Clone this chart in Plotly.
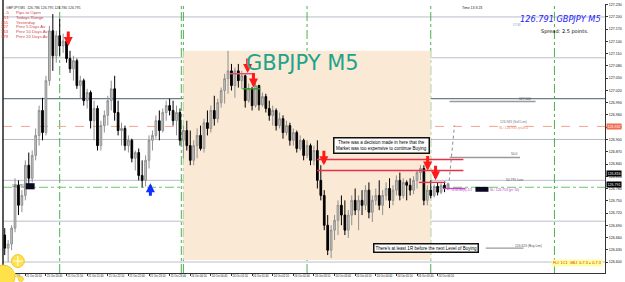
import plotly.graph_objects as go

# ---------------- data ----------------
bar_index = list(range(130))

opens = [126.666,126.634,126.644,126.683,126.788,126.739,126.763,126.837,126.805,126.861,
         126.910,126.971,126.917,127.044,127.166,127.105,127.154,127.129,127.141,127.098,
         127.073,127.093,127.032,127.044,126.995,127.015,126.946,126.976,126.885,126.934,
         126.959,126.995,127.024,126.966,126.922,126.927,126.885,126.898,126.854,126.868,
         126.812,126.800,126.849,126.898,126.910,126.946,126.922,126.966,126.983,126.971,
         126.946,126.966,126.898,126.922,126.885,126.849,126.885,126.910,126.878,126.941,
         126.927,126.971,126.951,126.990,127.020,127.049,127.068,127.032,127.068,127.044,
         127.056,126.995,127.024,126.983,127.032,126.985,127.005,126.976,126.959,126.971,
         126.934,126.951,126.917,126.934,126.898,126.917,126.878,126.898,126.861,126.885,
         126.849,126.873,126.800,126.763,126.690,126.629,126.678,126.702,126.739,126.715,
         126.678,126.715,126.751,126.727,126.751,126.739,126.776,126.722,126.751,126.763,
         126.739,126.763,126.780,126.751,126.776,126.800,126.763,126.795,126.788,126.776,
         126.800,126.819,126.829,126.751,126.776,126.763,126.785,126.771,126.788,126.780]

highs = [126.683,126.654,126.690,126.805,126.800,126.776,126.849,126.868,126.873,126.927,
         126.983,127.002,127.056,127.178,127.207,127.166,127.195,127.159,127.146,127.117,
         127.105,127.098,127.056,127.049,127.024,127.020,126.995,126.983,126.946,126.971,
         127.007,127.044,127.056,126.995,126.941,126.934,126.910,126.902,126.873,126.878,
         126.849,126.861,126.910,126.922,126.959,126.971,126.976,126.995,127.000,126.995,
         126.983,126.976,126.934,126.946,126.922,126.898,126.927,126.934,126.951,126.971,
         126.983,127.007,127.000,127.027,127.061,127.117,127.085,127.076,127.085,127.068,
         127.059,127.037,127.029,127.044,127.034,127.015,127.012,126.995,126.983,126.976,
         126.966,126.959,126.946,126.941,126.927,126.922,126.910,126.902,126.898,126.890,
         126.885,126.898,126.837,126.776,126.715,126.690,126.715,126.751,126.763,126.751,
         126.727,126.763,126.780,126.763,126.776,126.788,126.795,126.763,126.780,126.800,
         126.776,126.795,126.805,126.788,126.812,126.819,126.805,126.800,126.805,126.810,
         126.824,126.837,126.837,126.788,126.800,126.790,126.795,126.793,126.797,126.795]

lows = [126.617,126.600,126.629,126.673,126.715,126.722,126.751,126.788,126.795,126.849,
        126.885,126.898,126.910,127.032,127.068,127.088,127.105,127.112,127.088,127.063,
        127.044,127.024,127.000,126.983,126.976,126.927,126.898,126.873,126.873,126.917,
        126.934,126.971,126.946,126.910,126.885,126.873,126.868,126.844,126.824,126.800,
        126.783,126.785,126.829,126.873,126.902,126.898,126.917,126.946,126.959,126.934,
        126.910,126.885,126.854,126.873,126.837,126.837,126.854,126.873,126.868,126.910,
        126.917,126.934,126.941,126.978,126.988,127.012,127.020,127.002,127.027,127.024,
        126.978,126.990,126.971,126.978,126.971,126.980,126.966,126.946,126.934,126.922,
        126.927,126.902,126.910,126.885,126.885,126.868,126.873,126.849,126.854,126.837,
        126.837,126.780,126.751,126.678,126.617,126.610,126.654,126.666,126.690,126.666,
        126.659,126.690,126.715,126.678,126.715,126.727,126.707,126.698,126.739,126.727,
        126.715,126.751,126.732,126.739,126.763,126.751,126.756,126.751,126.763,126.766,
        126.780,126.800,126.739,126.739,126.756,126.758,126.763,126.766,126.771,126.776]

closes = [126.634,126.644,126.683,126.788,126.739,126.763,126.837,126.805,126.861,126.910,
          126.971,126.917,127.044,127.166,127.105,127.154,127.129,127.141,127.098,127.073,
          127.093,127.032,127.044,126.995,127.015,126.946,126.976,126.885,126.934,126.959,
          126.995,127.024,126.966,126.922,126.927,126.885,126.898,126.854,126.868,126.812,
          126.800,126.849,126.898,126.910,126.946,126.922,126.966,126.983,126.971,126.946,
          126.966,126.898,126.922,126.885,126.849,126.885,126.910,126.878,126.941,126.927,
          126.971,126.951,126.990,127.020,127.049,127.068,127.032,127.068,127.044,127.056,
          126.995,127.024,126.983,127.032,126.985,127.005,126.976,126.959,126.971,126.934,
          126.951,126.917,126.934,126.898,126.917,126.878,126.898,126.861,126.885,126.849,
          126.873,126.800,126.763,126.690,126.629,126.678,126.702,126.739,126.715,126.678,
          126.715,126.751,126.727,126.751,126.739,126.776,126.722,126.751,126.763,126.739,
          126.763,126.780,126.751,126.776,126.800,126.763,126.795,126.788,126.776,126.800,
          126.819,126.829,126.751,126.776,126.763,126.785,126.771,126.788,126.780,126.791]

tick_bars = [0, 6, 12, 18, 24, 30, 36, 42, 48, 54, 60, 66, 72, 78, 84, 90, 96, 102, 108, 114, 120, 126]
tick_text = ["21 Oct 2016", "21 Oct 20:10", "21 Oct 20:40", "21 Oct 21:10", "21 Oct 21:40",
             "21 Oct 22:10", "21 Oct 22:40", "21 Oct 23:10", "21 Oct 23:40", "24 Oct 00:10",
             "24 Oct 00:40", "24 Oct 01:10", "24 Oct 01:40", "24 Oct 02:10", "24 Oct 02:40",
             "24 Oct 03:10", "24 Oct 03:40", "24 Oct 04:10", "24 Oct 04:40", "24 Oct 05:10",
             "24 Oct 05:40", "24 Oct 06:10"]

price_ticks = [126.600, 126.630, 126.660, 126.690, 126.720, 126.750, 126.780, 126.810,
               126.840, 126.870, 126.900, 126.930, 126.960, 126.990, 127.020, 127.050,
               127.080, 127.110, 127.140, 127.170, 127.200, 127.230]

round_levels = [127.200, 127.100, 127.000, 126.900, 126.800, 126.700, 126.600]
separator_bars = [16, 51.4, 52, 88, 124, 160]

session_start, session_end = 52, 124
session_high, session_low = 127.117, 126.605

bid_price = 126.791
ask_price = 126.816
sell_limit = 126.932
green_level = 126.783

# red down arrows: (bar, price at tip)
red_arrow_bars = [18.5, 70.7, 72.4, 92.9, 123.1, 125.4]
red_arrow_prices = [127.129, 127.063, 127.027, 126.837, 126.824, 126.800]
blue_arrow_bar, blue_arrow_price = 42.4, 126.793

# drawn horizontal segments: (bar0, bar1, price, colour)
segments = [
    (65.5, 72.6, 127.061, "#e0507a"),
    (69.2, 74.4, 127.024, "#2e9e2e"),
    (90.9, 133.5, 126.851, "#e8304a"),
    (90.9, 133.5, 126.824, "#e8304a"),
    (120.5, 128.3, 126.795, "#e8304a"),
    (127.7, 134.1, 126.780, "#cc44cc"),
    (129.5, 150.0, 126.856, "#9a9a9a"),
    (129.5, 154.5, 126.993, "#9a9a9a"),
    (140.0, 151.0, 126.634, "#9a9a9a"),
]

stats_values = ["-5", "51", "155", "127", "163", "179"]
stats_labels = ["Pips to Open", "Todays Range", "Yesterday", "Prev 5 Days Av",
                "Prev 10 Days Av", "Prev 20 Days Av"]

# ---------------- figure ----------------
W, H = 625, 282
ML, MR, MT, MB = 3, 14, 3, 9
PW, PH = W - ML - MR, H - MT - MB
bar_px = 3.47
x_range = [-0.5, -0.5 + PW / bar_px]
y_range = [127.239 - 273 / 410, 127.239 - 3 / 410]

fig = go.Figure()

fig.add_trace(go.Candlestick(
    x=bar_index, open=opens, high=highs, low=lows, close=closes,
    increasing=dict(line=dict(color="#909090", width=1), fillcolor="#c8c8c8"),
    decreasing=dict(line=dict(color="#000000", width=1), fillcolor="#000000"),
    whiskerwidth=0, showlegend=False, hoverinfo="skip"))

shapes = []
shapes.append(dict(type="rect", xref="x", yref="y", x0=session_start, x1=session_end,
                   y0=session_low, y1=session_high, fillcolor="#fae9d4", line=dict(width=0),
                   layer="below"))
for lv in round_levels:
    dark = abs(lv - 127.0) < 1e-6
    shapes.append(dict(type="line", xref="paper", yref="y", x0=0, x1=1, y0=lv, y1=lv,
                       line=dict(color="#6e7d8c" if dark else "#b8bec8", width=1.3 if dark else 1),
                       layer="below"))
for sb in separator_bars:
    shapes.append(dict(type="line", xref="x", yref="paper", x0=sb, x1=sb, y0=0, y1=1,
                       line=dict(color="#4cb050", width=1, dash="dashdot"), layer="below"))
shapes.append(dict(type="line", xref="paper", yref="y", x0=0, x1=1, y0=sell_limit, y1=sell_limit,
                   line=dict(color="#f4a48e", width=1, dash="dash"), layer="below"))
shapes.append(dict(type="line", xref="paper", yref="y", x0=0, x1=1, y0=green_level, y1=green_level,
                   line=dict(color="#6cc86c", width=1, dash="dashdot"), layer="below"))
for b0, b1, pr, col in segments:
    shapes.append(dict(type="line", xref="x", yref="y", x0=b0, x1=b1, y0=pr, y1=pr,
                       line=dict(color=col, width=1.4)))
shapes.append(dict(type="line", xref="x", yref="y", x0=129.2, x1=130.9, y0=126.785, y1=126.934,
                   line=dict(color="#8a8a8a", width=1, dash="dot")))
shapes.append(dict(type="rect", xref="x", yref="y", x0=6.1, x1=8.7, y0=126.778, y1=126.793,
                   fillcolor="#0a0a1e", line=dict(width=0)))
shapes.append(dict(type="rect", xref="x", yref="y", x0=137.0, x1=140.8, y0=126.772, y1=126.784,
                   fillcolor="#0a0a1e", line=dict(width=0)))
shapes.append(dict(type="line", xref="paper", yref="paper", x0=0, x1=0, y0=0, y1=1.02,
                   line=dict(color="#222222", width=1.5)))

def px2paper(px, py):
    return (px - ML) / PW, (H - MB - py) / PH

for cx, cy, r, col in [(3, 277, 12, "#ffe24a"), (18, 261, 6.5, "#ffe24a"), (21, 279, 2.5, "#ffe24a")]:
    x0, y0 = px2paper(cx - r, cy + r)
    x1, y1 = px2paper(cx + r, cy - r)
    shapes.append(dict(type="circle", xref="paper", yref="paper", x0=x0, x1=x1, y0=y0, y1=y1,
                       fillcolor=col, line=dict(color="#f0c830", width=1)))
for (ax0, ay0, ax1, ay1) in [(18, 256, 18, 266), (13, 261, 23, 261)]:
    x0, y0 = px2paper(ax0, ay0)
    x1, y1 = px2paper(ax1, ay1)
    shapes.append(dict(type="line", xref="paper", yref="paper", x0=x0, x1=x1, y0=y0, y1=y1,
                       line=dict(color="#ffffff", width=1)))
x0, y0 = px2paper(10, 270)
x1, y1 = px2paper(20, 279)
shapes.append(dict(type="line", xref="paper", yref="paper", x0=x0, x1=x1, y0=y0, y1=y1,
                   line=dict(color="#ffe24a", width=2)))

ann = []
tiny = "Liberation Sans"
for b, p in zip(red_arrow_bars, red_arrow_prices):
    ann.append(dict(x=b, y=p, xref="x", yref="y", ax=0, ay=-16, text="", showarrow=True,
                    arrowhead=2, arrowsize=0.6, arrowwidth=3, arrowcolor="#ff1a1a"))
ann.append(dict(x=blue_arrow_bar, y=blue_arrow_price, xref="x", yref="y", ax=0, ay=14, text="",
                showarrow=True, arrowhead=2, arrowsize=0.6, arrowwidth=3, arrowcolor="#1030ff"))

fx, fy = px2paper(305, 48)
ann.append(dict(x=fx, y=fy, xref="paper", yref="paper", text="GBPJPY M5", showarrow=False,
                font=dict(family="DejaVu Sans", size=21, color="#1ea38c")))
fx, fy = px2paper(608, 12)
ann.append(dict(x=fx, y=fy, xref="paper", yref="paper", xanchor="right", text="<i>126.791 GBPJPY M5</i>",
                showarrow=False, borderpad=0, font=dict(family="DejaVu Sans", size=8.2, color="#1a1aff")))
fx, fy = px2paper(596, 26)
ann.append(dict(x=fx, y=fy, xref="paper", yref="paper", xanchor="right", text="Spread: 2.5 points.",
                showarrow=False, borderpad=0, font=dict(family="DejaVu Sans", size=5, color="#000000")))
fx, fy = px2paper(489, 3)
ann.append(dict(x=fx, y=fy, xref="paper", yref="paper", text="Time 13:3:23", showarrow=False,
                font=dict(family=tiny, size=3.5, color="#222222")))
fx, fy = px2paper(527, 21.5)
ann.append(dict(x=fx, y=fy, xref="paper", yref="paper", text="17:30", showarrow=False, borderpad=0,
                font=dict(family=tiny, size=3, color="#6a8fd0")))
fx, fy = px2paper(4, 3)
ann.append(dict(x=fx, y=fy, xref="paper", yref="paper", xanchor="left",
                text="GBPJPY,M5  126.786 126.795 126.780 126.791", showarrow=False,
                font=dict(family=tiny, size=3.5, color="#333333")))
for k, (v, lab) in enumerate(zip(stats_values, stats_labels)):
    fx, fy = px2paper(11, 7 + 4.8 * k)
    ann.append(dict(x=fx, y=fy, xref="paper", yref="paper", xanchor="right", text=v,
                    showarrow=False, font=dict(family=tiny, size=4.3, color="#ff2a2a")))
    fx, fy = px2paper(14, 7 + 4.8 * k)
    ann.append(dict(x=fx, y=fy, xref="paper", yref="paper", xanchor="left", text=lab,
                    showarrow=False, font=dict(family=tiny, size=4.3, color="#c84848")))
ann.append(dict(x=109.6, y=126.885, xref="x", yref="y",
                text="There was a decision made in here that the<br>Market was too expensive to continue Buying",
                showarrow=False, bgcolor="#ffffff", bordercolor="#111111", borderwidth=1.5, borderpad=1.5,
                font=dict(family=tiny, size=4.5, color="#000000")))
ann.append(dict(x=122.6, y=126.634, xref="x", yref="y",
                text="There's at least 1R before the next Level of Buying",
                showarrow=False, bgcolor="#ffffff", bordercolor="#111111", borderwidth=1.5, borderpad=1,
                font=dict(family=tiny, size=4.5, color="#000000")))
small = [
    (152.5, 126.640, "126.613 (Buy Lim)", "#555555"),
    (148.5, 126.864, "50.0", "#555555"),
    (151.5, 127.000, "127.000", "#555555"),
    (148.0, 126.944, "126.943 (Sell Lim)", "#777777"),
    (148.0, 126.929, "SL: 126.933, pt=8.0", "#f08060"),
    (148.5, 126.800, "50.791 Lsts", "#555555"),
    (133.0, 126.777, "0.50 lot(s) 1/1", "#b040c0"),
    (145.5, 126.777, "SL: 126.753 (pt: 50)", "#b040c0"),
    (4.5, 126.786, "126.791 ----", "#333333"),
]
for b, p, t, c in small:
    ann.append(dict(x=b, y=p, xref="x", yref="y", text=t, showarrow=False,
                    font=dict(family=tiny, size=3.3, color=c)))
for p, bg, fg in [(sell_limit, "#f26d4f", "#ffffff"), (ask_price, "#000000", "#ffffff"),
                  (bid_price, "#000000", "#ffffff")]:
    ann.append(dict(x=1, y=p, xref="paper", yref="y", xanchor="left", xshift=1, text=f"{p:.3f}",
                    showarrow=False, bgcolor=bg, borderpad=0.5,
                    font=dict(family=tiny, size=3.6, color=fg)))
fx, fy = px2paper(609, 266.5)
ann.append(dict(x=fx, y=fy, xref="paper", yref="paper", xanchor="right",
                text="FLI: 1C1  GBJ  0-7.3 = 0-7.3", showarrow=False, bgcolor="#ffffa0", borderpad=1,
                font=dict(family=tiny, size=3.8, color="#e02020")))

fig.update_layout(
    width=W, height=H, margin=dict(l=ML, r=MR, t=MT, b=MB),
    paper_bgcolor="#ffffff", plot_bgcolor="#ffffff",
    shapes=shapes, annotations=ann, showlegend=False,
    xaxis=dict(range=x_range, rangeslider=dict(visible=False), showgrid=False, zeroline=False,
               tickmode="array", tickvals=tick_bars, ticktext=tick_text, tickangle=0,
               ticklabelposition="outside right", ticks="outside", ticklen=2, tickcolor="#333333",
               showline=True, linecolor="#333333", linewidth=1,
               tickfont=dict(family=tiny, size=2.7, color="#111111")),
    yaxis=dict(range=y_range, side="right", showgrid=False, zeroline=False,
               tickmode="array", tickvals=price_ticks, ticktext=[f"{v:.3f}" for v in price_ticks],
               ticks="outside", ticklen=2, tickcolor="#333333",
               showline=True, linecolor="#333333", linewidth=1,
               tickfont=dict(family=tiny, size=3.6, color="#111111")),
)

fig.write_html("out.html")
